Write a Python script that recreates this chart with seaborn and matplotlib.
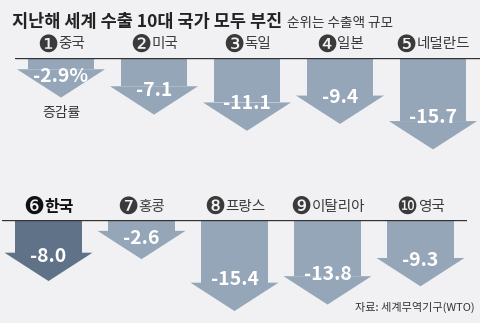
import matplotlib
matplotlib.use("Agg")
import matplotlib.pyplot as plt
from matplotlib.offsetbox import TextArea, HPacker, AnnotationBbox
import seaborn as sns
import pandas as pd

# ---- data ----
countries_top = ["중국", "미국", "독일", "일본", "네덜란드"]
ranks_top = ["❶", "❷", "❸", "❹", "❺"]
values_top = [2.9, 7.1, 11.1, 9.4, 15.7]
labels_top = ["-2.9%", "-7.1", "-11.1", "-9.4", "-15.7"]

countries_bot = ["한국", "홍콩", "프랑스", "이탈리아", "영국"]
ranks_bot = ["❻", "❼", "❽", "❾", "❿"]
values_bot = [8.0, 2.6, 15.4, 13.8, 9.3]
labels_bot = ["-8.0", "-2.6", "-15.4", "-13.8", "-9.3"]

title = "지난해 세계 수출 10대 국가 모두 부진"
subtitle = "순위는 수출액 규모"
unit_note = "증감률"
source = "자료: 세계무역기구(WTO)"

BG = "#f1f1f3"
ARROW = "#95a6b8"
KOREA = "#5f7288"
FONT = ["Noto Sans CJK KR", "DejaVu Sans"]

sns.set_theme(style="white")
plt.rcParams["font.family"] = FONT

W, H = 480, 323
fig = plt.figure(figsize=(W / 100, H / 100), dpi=100, facecolor=BG)

PX_PER_UNIT = 4.05
HEAD_UNITS = 7.0


def make_axes(left_px, top_px, bottom_px):
    ax = fig.add_axes([left_px / W, 1 - bottom_px / H, 465 / W, (bottom_px - top_px) / H])
    ax.set_facecolor("none")
    ax.set_ylim(-(bottom_px - top_px) / PX_PER_UNIT, 0)
    return ax


def draw_row(ax, names, ranks, values, labels, colors, bold_first=False):
    df = pd.DataFrame({"name": names, "val": [-v for v in values]})
    ylim = ax.get_ylim()
    sns.barplot(data=df, x="name", y="val", hue="name", palette=colors,
                width=0.72, ax=ax, legend=False, linewidth=0, saturation=1)
    ax.set_xlim(-0.5, 4.5)
    ax.set_ylim(*ylim)
    for i, v in enumerate(values):
        hw = 0.473
        ax.fill([i - hw, i + hw, i], [-v, -v, -v - HEAD_UNITS],
                color=colors[i], linewidth=0)
        ax.text(i, -(2.5 + 0.79 * v), labels[i], ha="center", va="center",
                color="white", fontsize=14, fontweight="bold", family=FONT)
        strong = bold_first and i == 0
        col = "#111111" if strong else "#3a3a3a"
        rank_ta = TextArea(ranks[i], textprops=dict(
            fontsize=17, color=col, family=["DejaVu Sans"]))
        name_ta = TextArea(names[i], textprops=dict(
            fontsize=11.5 if strong else 10.5,
            fontweight="bold" if strong else "normal",
            color=col, family=FONT))
        pack = HPacker(children=[rank_ta, name_ta], pad=0, sep=0,
                       align="center")
        ab = AnnotationBbox(pack, (i, 0), xybox=(0, 9.5),
                            boxcoords="offset points", frameon=False,
                            box_alignment=(0.5, 0.5), pad=0,
                            annotation_clip=False)
        ax.add_artist(ab)
    ax.axhline(0, color="#333333", lw=1.0, zorder=5)
    ax.set_xlabel("")
    ax.set_ylabel("")
    ax.set_xticks([])
    ax.set_yticks([])
    for s in ax.spines.values():
        s.set_visible(False)


ax1 = make_axes(14.5, 57.5, 160)
draw_row(ax1, countries_top, ranks_top, values_top, labels_top, [ARROW] * 5)
ax1.annotate(unit_note, (0, -values_top[0] - HEAD_UNITS), xytext=(0, -11),
             textcoords="offset points", ha="center", va="center",
             fontsize=10, color="#333333", family=FONT)

ax2 = make_axes(2, 220.3, 323)
draw_row(ax2, countries_bot, ranks_bot, values_bot, labels_bot,
         [KOREA] + [ARROW] * 4, bold_first=True)

fig.text(12 / W, 1 - 22 / H, title, fontsize=12.6, fontweight="bold",
         color="#222222", va="center", ha="left", family=FONT)
fig.text(287 / W, 1 - 22.5 / H, subtitle, fontsize=9.8, color="#333333",
         va="center", ha="left", family=FONT)
fig.text(475 / W, 1 - 307 / H, source, fontsize=8, color="#333333",
         va="center", ha="right", family=FONT)

fig.savefig("out.png", dpi=100, facecolor=BG)
